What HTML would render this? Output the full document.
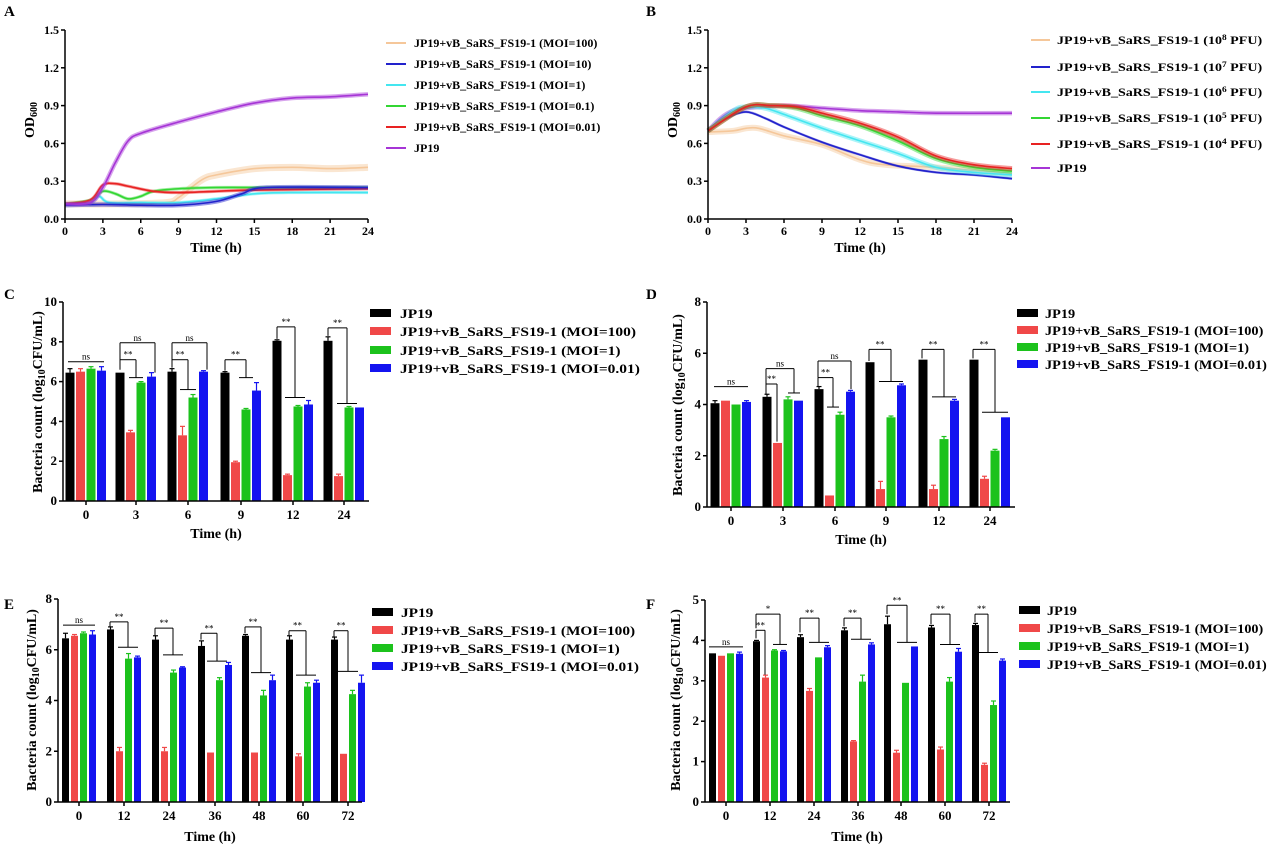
<!DOCTYPE html>
<html><head><meta charset="utf-8"><style>
html,body{margin:0;padding:0;background:#fff;}
svg{display:block;font-family:"Liberation Serif",serif;font-weight:bold;}
</style></head><body>
<svg id="s" width="1269" height="845" viewBox="0 0 1269 845" xmlns="http://www.w3.org/2000/svg">
<rect width="1269" height="845" fill="#fff"/>
<g id="shapes"></g>
<g font-size="15">
<text x="4" y="16">A</text><text x="646" y="16">B</text>
<text x="4" y="299">C</text><text x="646" y="299">D</text>
<text x="4" y="609">E</text><text x="646" y="609">F</text>
</g>
<g font-size="12" id="tA"><g class="yt"><text>0.0</text><text>0.3</text><text>0.6</text><text>0.9</text><text>1.2</text><text>1.5</text></g><g class="xt"><text>0</text><text>3</text><text>6</text><text>9</text><text>12</text><text>15</text><text>18</text><text>21</text><text>24</text></g></g>
<g font-size="12" id="tB"><g class="yt"><text>0.0</text><text>0.3</text><text>0.6</text><text>0.9</text><text>1.2</text><text>1.5</text></g><g class="xt"><text>0</text><text>3</text><text>6</text><text>9</text><text>12</text><text>15</text><text>18</text><text>21</text><text>24</text></g></g>
<g font-size="13" id="tC"><g class="yt"><text>0</text><text>2</text><text>4</text><text>6</text><text>8</text><text>10</text></g><g class="xt"><text>0</text><text>3</text><text>6</text><text>9</text><text>12</text><text>24</text></g></g>
<g font-size="13" id="tD"><g class="yt"><text>0</text><text>2</text><text>4</text><text>6</text><text>8</text></g><g class="xt"><text>0</text><text>3</text><text>6</text><text>9</text><text>12</text><text>24</text></g></g>
<g font-size="13" id="tE"><g class="yt"><text>0</text><text>2</text><text>4</text><text>6</text><text>8</text></g><g class="xt"><text>0</text><text>12</text><text>24</text><text>36</text><text>48</text><text>60</text><text>72</text></g></g>
<g font-size="13" id="tF"><g class="yt"><text>0</text><text>1</text><text>2</text><text>3</text><text>4</text><text>5</text></g><g class="xt"><text>0</text><text>12</text><text>24</text><text>36</text><text>48</text><text>60</text><text>72</text></g></g>
<g font-size="9" font-weight="normal" id="gC"><text>ns</text><text>**</text><text>ns</text><text>**</text><text>ns</text><text>**</text><text>**</text><text>**</text></g>
<g font-size="9" font-weight="normal" id="gD"><text>ns</text><text>**</text><text>ns</text><text>**</text><text>ns</text><text>**</text><text>**</text><text>**</text></g>
<g font-size="9" font-weight="normal" id="gE"><text>ns</text><text>**</text><text>**</text><text>**</text><text>**</text><text>**</text><text>**</text></g>
<g font-size="9" font-weight="normal" id="gF"><text>ns</text><text>**</text><text>*</text><text>**</text><text>**</text><text>**</text><text>**</text><text>**</text></g>
<g font-size="14" text-anchor="middle">
<text x="216" y="252">Time (h)</text>
<text x="860" y="252">Time (h)</text>
<text x="216" y="538">Time (h)</text>
<text x="861" y="544">Time (h)</text>
<text x="210" y="841">Time (h)</text>
<text x="857" y="841">Time (h)</text>
<text transform="translate(34,120) rotate(-90)">OD<tspan font-size="10" dy="3">600</tspan></text>
<text transform="translate(677,120) rotate(-90)">OD<tspan font-size="10" dy="3">600</tspan></text>
<text transform="translate(42,402) rotate(-90)">Bacteria count  (log<tspan font-size="10" dy="3">10</tspan><tspan dy="-3">CFU/mL)</tspan></text>
<text transform="translate(682,405) rotate(-90)">Bacteria count  (log<tspan font-size="10" dy="3">10</tspan><tspan dy="-3">CFU/mL)</tspan></text>
<text transform="translate(36,700) rotate(-90)">Bacteria count  (log<tspan font-size="10" dy="3">10</tspan><tspan dy="-3">CFU/mL)</tspan></text>
<text transform="translate(680,700) rotate(-90)">Bacteria count  (log<tspan font-size="10" dy="3">10</tspan><tspan dy="-3">CFU/mL)</tspan></text>
</g>
<g font-size="12">
<line x1="386" y1="43" x2="406" y2="43" stroke="#f5c79a" stroke-width="2"/><text x="414" y="47">JP19+vB_SaRS_FS19-1 (MOI=100)</text>
<line x1="386" y1="64" x2="406" y2="64" stroke="#2222cc" stroke-width="2"/><text x="414" y="68">JP19+vB_SaRS_FS19-1 (MOI=10)</text>
<line x1="386" y1="85" x2="406" y2="85" stroke="#44e6f0" stroke-width="2"/><text x="414" y="89">JP19+vB_SaRS_FS19-1 (MOI=1)</text>
<line x1="386" y1="106" x2="406" y2="106" stroke="#33d633" stroke-width="2"/><text x="414" y="110">JP19+vB_SaRS_FS19-1 (MOI=0.1)</text>
<line x1="386" y1="127" x2="406" y2="127" stroke="#e82222" stroke-width="2"/><text x="414" y="131">JP19+vB_SaRS_FS19-1 (MOI=0.01)</text>
<line x1="386" y1="148" x2="406" y2="148" stroke="#a635d6" stroke-width="2"/><text x="414" y="152">JP19</text>

<line x1="1031" y1="40" x2="1050" y2="40" stroke="#f5c79a" stroke-width="2"/>
<line x1="1031" y1="67" x2="1050" y2="67" stroke="#2222cc" stroke-width="2"/>
<line x1="1031" y1="92" x2="1050" y2="92" stroke="#44e6f0" stroke-width="2"/>
<line x1="1031" y1="118" x2="1050" y2="118" stroke="#33d633" stroke-width="2"/>
<line x1="1031" y1="144" x2="1050" y2="144" stroke="#e82222" stroke-width="2"/>
<line x1="1031" y1="168" x2="1050" y2="168" stroke="#a635d6" stroke-width="2"/>
<g transform="translate(1057 0) scale(1.17 1) translate(-1057 0)">
<text x="1057" y="44">JP19+vB_SaRS_FS19-1 (10<tspan font-size="8" dy="-4">8</tspan><tspan dy="4"> PFU)</tspan></text>
<text x="1057" y="71">JP19+vB_SaRS_FS19-1 (10<tspan font-size="8" dy="-4">7</tspan><tspan dy="4"> PFU)</tspan></text>
<text x="1057" y="96">JP19+vB_SaRS_FS19-1 (10<tspan font-size="8" dy="-4">6</tspan><tspan dy="4"> PFU)</tspan></text>
<text x="1057" y="122">JP19+vB_SaRS_FS19-1 (10<tspan font-size="8" dy="-4">5</tspan><tspan dy="4"> PFU)</tspan></text>
<text x="1057" y="148">JP19+vB_SaRS_FS19-1 (10<tspan font-size="8" dy="-4">4</tspan><tspan dy="4"> PFU)</tspan></text>
<text x="1057" y="172">JP19</text>
</g>
</g>
<g font-size="13">
<rect x="370" y="309" width="21" height="8" fill="#000"/>
<rect x="370" y="327" width="21" height="8" fill="#f04848"/>
<rect x="370" y="346" width="21" height="8" fill="#1cc21c"/>
<rect x="370" y="364" width="21" height="8" fill="#1414f0"/>
<g transform="translate(400 0) scale(1.19 1) translate(-400 0)">
<text x="400" y="318">JP19</text>
<text x="400" y="336">JP19+vB_SaRS_FS19-1 (MOI=100)</text>
<text x="400" y="355">JP19+vB_SaRS_FS19-1 (MOI=1)</text>
<text x="400" y="373">JP19+vB_SaRS_FS19-1 (MOI=0.01)</text>
</g>

<rect x="1017" y="309" width="21" height="8" fill="#000"/>
<rect x="1017" y="326" width="21" height="8" fill="#f04848"/>
<rect x="1017" y="343" width="21" height="8" fill="#1cc21c"/>
<rect x="1017" y="360" width="21" height="8" fill="#1414f0"/>
<g transform="translate(1045 0) scale(1.10 1) translate(-1045 0)">
<text x="1045" y="318">JP19</text>
<text x="1045" y="335">JP19+vB_SaRS_FS19-1 (MOI=100)</text>
<text x="1045" y="352">JP19+vB_SaRS_FS19-1 (MOI=1)</text>
<text x="1045" y="369">JP19+vB_SaRS_FS19-1 (MOI=0.01)</text>
</g>

<rect x="372" y="608" width="21" height="8" fill="#000"/>
<rect x="372" y="626" width="21" height="8" fill="#f04848"/>
<rect x="372" y="644" width="21" height="8" fill="#1cc21c"/>
<rect x="372" y="662" width="21" height="8" fill="#1414f0"/>
<g transform="translate(401 0) scale(1.18 1) translate(-401 0)">
<text x="401" y="617">JP19</text>
<text x="401" y="635">JP19+vB_SaRS_FS19-1 (MOI=100)</text>
<text x="401" y="653">JP19+vB_SaRS_FS19-1 (MOI=1)</text>
<text x="401" y="671">JP19+vB_SaRS_FS19-1 (MOI=0.01)</text>
</g>

<rect x="1019" y="606" width="21" height="8" fill="#000"/>
<rect x="1019" y="624" width="21" height="8" fill="#f04848"/>
<rect x="1019" y="642" width="21" height="8" fill="#1cc21c"/>
<rect x="1019" y="660" width="21" height="8" fill="#1414f0"/>
<g transform="translate(1047 0) scale(1.09 1) translate(-1047 0)">
<text x="1047" y="615">JP19</text>
<text x="1047" y="633">JP19+vB_SaRS_FS19-1 (MOI=100)</text>
<text x="1047" y="651">JP19+vB_SaRS_FS19-1 (MOI=1)</text>
<text x="1047" y="669">JP19+vB_SaRS_FS19-1 (MOI=0.01)</text>
</g>
</g>
</svg>
<script>
var NS="http://www.w3.org/2000/svg",G=document.getElementById("shapes");
function el(t,a){var e=document.createElementNS(NS,t);for(var k in a)e.setAttribute(k,a[k]);G.appendChild(e);return e;}
function ln(x1,y1,x2,y2,c,w){el("line",{x1:x1,y1:y1,x2:x2,y2:y2,stroke:c||"#000","stroke-width":w||1.5});}
function placeTicks(id,xs,ys,xLab,yLab,yx){var g=document.getElementById(id);
 var yt=g.querySelector(".yt").children,xt=g.querySelector(".xt").children;
 for(var i=0;i<yt.length;i++){yt[i].setAttribute("x",yx);yt[i].setAttribute("y",ys[i]+4);yt[i].setAttribute("text-anchor","end");}
 for(var i=0;i<xt.length;i++){xt[i].setAttribute("x",xs[i]);xt[i].setAttribute("y",xLab);xt[i].setAttribute("text-anchor","middle");}}
function smooth(p){var d="M"+p[0][0]+","+p[0][1];for(var i=0;i<p.length-1;i++){var p0=p[i-1]||p[i],p1=p[i],p2=p[i+1],p3=p[i+2]||p2;
 d+=" C"+(p1[0]+(p2[0]-p0[0])/6)+","+(p1[1]+(p2[1]-p0[1])/6)+" "+(p2[0]-(p3[0]-p1[0])/6)+","+(p2[1]-(p3[1]-p1[1])/6)+" "+p2[0]+","+p2[1];}return d;}
function lineChart(x0,x1,y0,yt,series,tid){
 var X=function(t){return x0+t*(x1-x0)/24},Y=function(v){return y0-v*(y0-yt)/1.5};
 series.forEach(function(s){var p=s.d.map(function(q){return[X(q[0]),Y(q[1])]});var d=smooth(p);
  el("path",{d:d,fill:"none",stroke:s.c,"stroke-width":s.b||3.2,"stroke-opacity":0.45});
  el("path",{d:d,fill:"none",stroke:s.c,"stroke-width":1.6});});
 ln(x0,y0,x1,y0);ln(x0,yt,x0,y0);
 var ys=[],xs=[];for(var i=0;i<=5;i++){var y=Y(i*0.3);ys.push(y);ln(x0-4,y,x0,y);}
 for(var i=0;i<=8;i++){var x=X(i*3);xs.push(x);ln(x,y0,x,y0+4);}
 placeTicks(tid,xs,ys,y0+16,0,x0-6);}
var tan="#f5c79a",blu="#2222cc",cy="#44e6f0",gr="#33d633",rd="#e82222",pu="#a635d6";
lineChart(65,368,219,30,[
 {c:tan,b:7,d:[[0,.12],[4,.12],[8,.13],[9,.17],[10,.25],[11,.32],[12,.35],[15,.40],[18,.41],[21,.40],[24,.41]]},
 {c:cy,d:[[0,.12],[2,.13],[2.7,.18],[3.5,.13],[6,.13],[9,.13],[12,.16],[15,.2],[18,.21],[24,.21]]},
 {c:gr,d:[[0,.12],[2,.15],[3,.22],[4,.2],[5,.16],[6,.18],[7,.22],[9,.24],[12,.25],[15,.25],[24,.25]]},
 {c:rd,d:[[0,.12],[2,.15],[3,.27],[4,.28],[5,.26],[7,.22],[9,.21],[12,.22],[15,.23],[24,.24]]},
 {c:blu,b:4.5,d:[[0,.11],[3,.115],[6,.11],[9,.11],[12,.14],[14,.2],[16,.25],[24,.25]]},
 {c:pu,b:4.5,d:[[0,.12],[2,.13],[3,.25],[4,.45],[5,.62],[6,.68],[9,.77],[12,.85],[15,.92],[18,.96],[21,.97],[24,.99]]}
],"tA");
lineChart(708,1012,219,30,[
 {c:pu,b:4.5,d:[[0,.70],[1,.8],[2,.86],[3,.88],[6,.90],[9,.88],[12,.86],[15,.85],[18,.84],[24,.84]]},
 {c:tan,b:6,d:[[0,.69],[2,.70],[3,.72],[4,.72],[6,.66],[9,.59],[12,.47],[14,.43],[18,.41],[24,.36]]},
 {c:blu,b:2.5,d:[[0,.70],[1.5,.8],[3,.85],[4.5,.80],[6,.73],[9,.61],[12,.51],[15,.42],[18,.37],[21,.35],[24,.32]]},
 {c:cy,b:5,d:[[0,.70],[2,.86],[3,.89],[4.5,.88],[6,.83],[9,.72],[12,.62],[15,.52],[18,.41],[21,.37],[24,.35]]},
 {c:gr,b:5,d:[[0,.70],[3,.89],[5,.90],[7,.88],[9,.82],[12,.74],[15,.62],[18,.48],[21,.41],[24,.38]]},
 {c:rd,b:5,d:[[0,.70],[3,.89],[5,.90],[7,.89],[9,.84],[12,.76],[15,.65],[18,.50],[21,.43],[24,.40]]}
],"tB");
var BC=["#000","#f04848","#1cc21c","#1414f0"];
function barChart(o){
 var Y=function(v){return o.y0-v*(o.y0-o.yt)/o.max};
 o.data.forEach(function(g,gi){var gx=o.gx[gi];
  g.forEach(function(v,bi){var cx=gx+o.off[bi],y=Y(v);
   el("rect",{x:cx-o.w/2,y:y,width:o.w,height:o.y0-y,fill:BC[bi]});
   var e=(o.err&&o.err[gi]&&o.err[gi][bi]!=null)?o.err[gi][bi]:0.12;
   if(e>0){var ye=Y(v+e);ln(cx,y,cx,ye,BC[bi],1.2);ln(cx-2.5,ye,cx+2.5,ye,BC[bi],1.2);}});});
 var labs=document.getElementById(o.sig).children;
 o.br.forEach(function(b,i){var gx=o.gx[b[0]],xl=gx+b[1],xr=gx+b[2],yt=Y(b[3]);
  ln(xl,yt,xr,yt,"#000",1);if(b[4]!==b[3])ln(xl,yt,xl,Y(b[4]),"#000",1);if(b[5]!==b[3])ln(xr,yt,xr,Y(b[5]),"#000",1);
  if(b[6]>0)ln(xr-b[6],Y(b[5]),xr+b[6],Y(b[5]),"#000",1);
  if(labs[i]){labs[i].setAttribute("x",(xl+xr)/2);labs[i].setAttribute("y",yt-2);labs[i].setAttribute("text-anchor","middle");}});
 ln(o.x0,o.y0,o.x1,o.y0);ln(o.x0,o.yt,o.x0,o.y0);
 var ys=[];for(var v=0;v<=o.max+1e-9;v+=o.step){var y=Y(v);ys.push(y);ln(o.x0-4,y,o.x0,y);}
 o.gx.forEach(function(x){ln(x,o.y0,x,o.y0+4);});
 placeTicks(o.tid,o.gx,ys,o.y0+18,0,o.x0-6);}
barChart({x0:63,x1:369,y0:501,yt:302,max:10,step:2,w:9,off:[-16,-5.5,5,15.5],gx:[86,136,188,241,293,344],tid:"tC",sig:"gC",
 data:[[6.45,6.5,6.65,6.55],[6.45,3.45,5.95,6.25],[6.5,3.3,5.2,6.5],[6.45,1.95,4.6,5.55],[8.05,1.3,4.75,4.85],[8.05,1.25,4.7,4.7]],
 err:[[.2,.15,.1,.2],[0,.1,.05,.2],[.15,.45,.15,.05],[.05,.05,.05,.4],[.05,.05,.05,.2],[.2,.1,.05,0]],
 br:[[0,-18,18,7.0,7.0,7.0,0],[1,-16,0,7.1,6.6,6.2,7],[1,-16,19,7.95,6.6,6.45,0],[2,-16,0,7.1,6.7,5.6,8],[2,-16,19,7.95,6.7,6.6,0],[3,-16,5,7.1,6.55,6.2,7],[4,-16,2,8.75,8.15,5.2,10],[5,-16,3,8.7,8.3,4.9,10]]});
barChart({x0:707,x1:1015,y0:507,yt:302,max:8,step:2,w:9,off:[-16,-5.5,5,15.5],gx:[731,783,835,886,939,990],tid:"tD",sig:"gD",
 data:[[4.05,4.15,4.0,4.1],[4.3,2.5,4.2,4.15],[4.6,.45,3.6,4.5],[5.65,.7,3.5,4.75],[5.75,.7,2.65,4.15],[5.75,1.1,2.2,3.5]],
 err:[[.1,0,0,.05],[.1,0,.1,0],[.1,0,.1,.05],[0,.3,.05,.05],[0,.15,.1,.05],[0,.1,.05,0]],
 br:[[0,-17,17,4.7,4.7,4.7,0],[1,-17,-6,4.8,4.4,2.55,0],[1,-17,11,5.4,4.8,4.45,6],[2,-17,-2,5.05,4.7,3.9,6],[2,-17,16,5.7,5.05,4.6,0],[3,-17,5,6.15,5.7,4.9,12],[4,-17,5,6.15,5.8,4.3,12],[5,-17,5,6.15,5.8,3.7,13]]});
barChart({x0:58,x1:362,y0:802,yt:599,max:8,step:2,w:7,off:[-13.5,-4.5,4.5,13.5],gx:[79,124,169,215,259,303,348],tid:"tE",sig:"gE",
 data:[[6.45,6.55,6.65,6.6],[6.8,2.0,5.65,5.7],[6.4,2.0,5.1,5.3],[6.15,1.95,4.8,5.4],[6.55,1.95,4.2,4.8],[6.4,1.8,4.55,4.7],[6.4,1.9,4.25,4.7]],
 err:[[.2,.05,.05,.15],[.1,.15,.2,.05],[.15,.15,.1,.03],[.2,0,.1,.1],[.05,0,.2,.2],[.15,.1,.15,.1],[.1,0,.15,.3]],
 br:[[0,-16,16,6.97,6.97,6.97,0],[1,-14,4,7.1,6.9,6.1,10],[2,-14,4,6.85,6.55,5.8,10],[3,-14,2,6.65,6.4,5.55,10],[4,-14,2,6.9,6.65,5.1,10],[5,-14,3,6.75,6.55,5.0,10],[6,-14,0,6.75,6.5,5.15,10]]});
barChart({x0:705,x1:1010,y0:802,yt:600,max:5,step:1,w:7,off:[-13.5,-4.5,4.5,13.5],gx:[726,770,814,858,901,945,989],tid:"tF",sig:"gF",
 data:[[3.68,3.62,3.68,3.67],[3.98,3.08,3.75,3.73],[4.08,2.75,3.58,3.83],[4.25,1.5,2.98,3.9],[4.4,1.22,2.95,3.85],[4.32,1.3,2.98,3.72],[4.38,.92,2.4,3.5]],
 err:[[0,0,0,.04],[.02,.06,.02,.02],[.06,.06,0,.04],[.06,.02,.16,.04],[.2,.06,0,0],[.05,.06,.1,.08],[.04,.04,.1,.04]],
 br:[[0,-17,17,3.84,3.84,3.84,0],[1,-14,-5,4.25,4.05,3.15,0],[1,-14,10,4.65,4.3,3.9,7],[2,-14,5,4.55,4.2,3.95,10],[3,-14,3,4.55,4.35,4.03,10],[4,-14,6,4.87,4.65,3.95,10],[5,-14,5,4.65,4.4,3.9,10],[6,-14,-1,4.65,4.45,3.7,10]]});
</script>
</body></html>
